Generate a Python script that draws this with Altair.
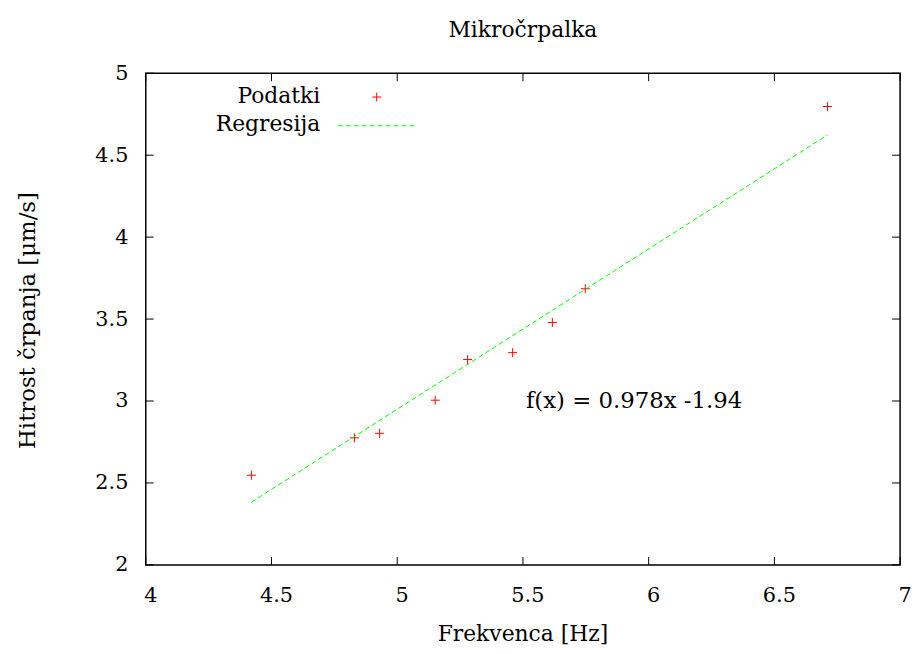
import altair as alt
import pandas as pd

# ---- data ----
freq = [4.42, 4.83, 4.93, 5.151, 5.28, 5.459, 5.617, 5.748, 6.711]
speed = [2.547, 2.775, 2.803, 3.005, 3.253, 3.295, 3.479, 3.685, 4.797]
slope = 0.978
intercept = -1.94
reg_x = [4.42, 6.711]
x_ticks = [4, 4.5, 5, 5.5, 6, 6.5, 7]
x_tick_labels = ["4", "4.5", "5", "5.5", "6", "6.5", "7"]
y_ticks = [2, 2.5, 3, 3.5, 4, 4.5, 5]
title_text = "Mikročrpalka"
x_title = "Frekvenca [Hz]"
y_title = "Hitrost črpanja [μm/s]"
fit_label = "f(x) = 0.978x -1.94"
legend_labels = ["Podatki", "Regresija"]

FONT = "DejaVu Serif"
TXT = 22
TICK = 21
RED = "#ff0000"
GREEN = "#00ff00"
PLUS = "M-1,0L1,0M0,-1L0,1"
W, H = 761, 496

df = pd.DataFrame({"x": freq, "y": speed})
reg = pd.DataFrame({"x": reg_x, "y": [slope * v + intercept for v in reg_x]})
xt = pd.DataFrame({"x": x_ticks, "t": x_tick_labels})
yt = pd.DataFrame({"y": y_ticks})
lab = pd.DataFrame({"x": [5.5], "y": [3.0], "t": [fit_label]})
one = pd.DataFrame({"a": [1]})

xs = alt.Scale(domain=[4, 7], nice=False, zero=False)
ys = alt.Scale(domain=[2, 5], nice=False, zero=False)

xaxis = alt.Axis(values=x_ticks, labels=False,
                 title=x_title, titleX=380, titleY=76, titleBaseline="alphabetic",
                 titleAlign="center")
yaxis = alt.Axis(values=y_ticks, format="~g", labelPadding=18, labelFlush=False,
                 labelOverlap=False,
                 title=y_title, titleAngle=270, titleX=-112, titleY=249,
                 titleBaseline="alphabetic", titleAlign="center", titleFontSize=23)


def X(f):
    return alt.X(f, type="quantitative", scale=xs, axis=xaxis)


def Y(f):
    return alt.Y(f, type="quantitative", scale=ys, axis=yaxis)


tick_style = dict(color="black", strokeWidth=1)

xt_bottom = alt.Chart(xt).mark_rule(**tick_style).encode(
    x=X("x"), y=alt.value(H), y2=alt.value(H - 8))
xt_top = alt.Chart(xt).mark_rule(**tick_style).encode(
    x=X("x"), y=alt.value(0), y2=alt.value(8))
xt_labels = alt.Chart(xt).mark_text(align="center", baseline="alphabetic", dx=5,
                                    font=FONT, fontSize=TICK, color="black").encode(
    x=X("x"), y=alt.value(H + 37), text="t:N")
yt_left = alt.Chart(yt).mark_rule(**tick_style).encode(
    y=Y("y"), x=alt.value(0), x2=alt.value(8))
yt_right = alt.Chart(yt).mark_rule(**tick_style).encode(
    y=Y("y"), x=alt.value(W), x2=alt.value(W - 8))

line = alt.Chart(reg).mark_line(color=GREEN, strokeWidth=1, strokeDash=[5, 3]).encode(
    x=X("x"), y=Y("y"))

points = alt.Chart(df).mark_point(shape=PLUS, size=81, filled=False, color=RED,
                                  strokeWidth=1, opacity=1).encode(
    x=X("x"), y=Y("y"))

fit_text = alt.Chart(lab).mark_text(align="left", baseline="middle", font=FONT,
                                    fontSize=23, dx=3, color="black").encode(
    x=X("x"), y=Y("y"), text="t:N")

title_mark = alt.Chart(one).mark_text(text=title_text, align="center", baseline="alphabetic",
                                      font=FONT, fontSize=TXT, color="black").encode(
    x=alt.value(W / 2), y=alt.value(-37))

leg1 = alt.Chart(one).mark_text(text=legend_labels[0], align="right", baseline="alphabetic",
                                font=FONT, fontSize=TXT, color="black").encode(
    x=alt.value(176), y=alt.value(30))
leg1m = alt.Chart(one).mark_point(shape=PLUS, size=81, filled=False, color=RED,
                                  strokeWidth=1, opacity=1).encode(
    x=alt.value(233), y=alt.value(24))
leg2 = alt.Chart(one).mark_text(text=legend_labels[1], align="right", baseline="alphabetic",
                                font=FONT, fontSize=TXT, color="black").encode(
    x=alt.value(176), y=alt.value(58))
leg2l = alt.Chart(one).mark_rule(color=GREEN, strokeWidth=1, strokeDash=[5, 3]).encode(
    x=alt.value(194), x2=alt.value(272), y=alt.value(53))

chart = alt.layer(
    points, xt_bottom, xt_top, yt_left, yt_right, xt_labels, line, fit_text,
    title_mark, leg1, leg1m, leg2, leg2l
).properties(
    width=W, height=H,
    padding={"left": 139, "top": 63, "right": 11, "bottom": 79},
    autosize=alt.AutoSizeParams(type="none"),
).configure_view(
    stroke="black", strokeWidth=1.5
).configure_axis(
    grid=False, domain=False, ticks=False, tickSize=0,
    labelFont=FONT, labelFontSize=TICK, labelColor="black",
    titleFont=FONT, titleFontSize=TXT, titleFontWeight="normal", titleColor="black"
)

chart.save("out.html", embed_options={"renderer": "svg", "actions": False})
